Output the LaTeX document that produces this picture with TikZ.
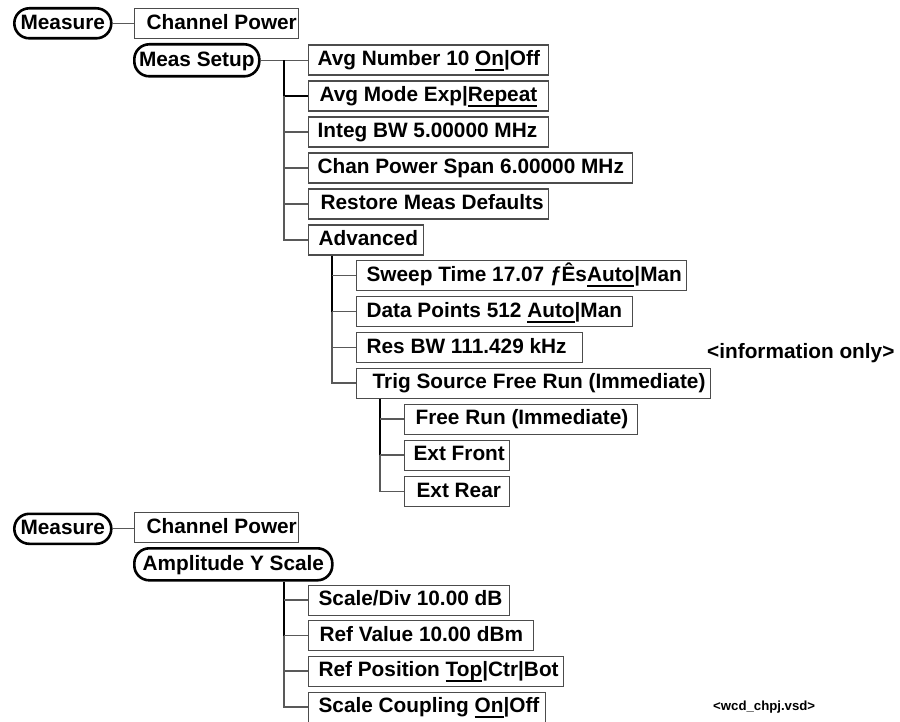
\documentclass[tikz,border=0pt]{standalone}
\usepackage{fontspec}
\setmainfont{Liberation Sans}
\newlength\ulw
\newcommand\ul[1]{\settowidth\ulw{#1}\rlap{\rule[-5.2pt]{\ulw}{1.8pt}}#1}
\newcommand\ff{\fontsize{20.8pt}{24pt}\selectfont\bfseries}
\tikzset{
  mbox/.style={draw=black!70, line width=1.2pt, anchor=north west, inner xsep=0pt, inner ysep=0pt,
    minimum height=30pt, text height=15pt, text depth=3.5pt, font=\ff},
  pill/.style={draw=black, line width=2.6pt, rounded corners=15pt, anchor=north west, inner xsep=0pt,
    inner ysep=0pt, text height=15pt, text depth=3.5pt, font=\ff},
  cthin/.style={draw=black!65, line width=1.3pt},
  cthick/.style={draw=black, line width=2pt},
  note/.style={anchor=west, inner sep=0pt, font=\ff}
}
\newcommand\mb[6][10]{\node[mbox] (#2) at (#3,#4) {\makebox[#5pt][l]{\hspace*{#1pt}#6}};}
\newcommand\pl[6]{\node[pill, minimum height=#5pt] (#1) at (#2,#3) {\makebox[#4pt][c]{#6}};}
\begin{document}
\begin{tikzpicture}[x=1pt,y=-1pt]
\useasboundingbox (0,0) rectangle (900,722);
% ---------- top tree ----------
\pl{m1}{13}{7}{97}{30}{Measure}
\mb[12]{cp1}{134}{8}{164}{Channel Power}
\pl{ms}{133}{43}{125}{32}{Meas Setup}
\mb[9]{an}{308}{44.5}{240}{Avg Number 10 \ul{On}|Off}
\mb[11]{am}{308}{80.5}{240}{Avg Mode Exp|\ul{Repeat}}
\mb[9]{ib}{308}{116.5}{240}{Integ BW 5.00000 MHz}
\mb[9]{cs}{308}{152.5}{324}{Chan Power Span 6.00000 MHz}
\mb[12]{rd}{308}{188.5}{240}{Restore Meas Defaults}
\mb[10]{adv}{308}{224.5}{115}{Advanced}
\mb[10]{sw}{356}{260}{330}{Sweep Time 17.07 ƒÊs\ul{Auto}|Man}
\mb[10]{dp}{356}{296}{276}{Data Points 512 \ul{Auto}|Man}
\mb[10]{rb}{356}{332}{226}{Res BW 111.429 kHz}
\mb[16]{ts}{356}{367.5}{354}{Trig Source Free Run (Immediate)}
\mb[11]{fr}{404}{403.5}{233}{Free Run (Immediate)}
\mb[9]{ef}{404}{439.5}{105}{Ext Front}
\mb[12]{er}{404}{476}{105}{Ext Rear}
\node[note] (info) at (707,353) {<information only>};
% ---------- bottom tree ----------
\pl{m2}{13}{512.5}{97}{30}{Measure}
\mb[12]{cp2}{134}{512}{164}{Channel Power}
\pl{ay}{133}{547}{198}{32}{Amplitude Y Scale}
\mb[10]{sd}{308}{584.5}{201}{Scale/Div 10.00 dB}
\mb[11]{rv}{308}{620}{225}{Ref Value 10.00 dBm}
\mb[10]{rp}{308}{655.5}{255}{Ref Position \ul{Top}|Ctr|Bot}
\mb[10]{sc}{308}{691.5}{237}{Scale Coupling \ul{On}|Off}
\node[anchor=west, inner sep=0pt, font=\fontsize{13.2pt}{15pt}\selectfont\bfseries] (wcd) at (713,707) {<wcd\_chpj.vsd>};
% ---------- connectors ----------
\coordinate (t1) at (284,0);
\coordinate (t2) at (332,0);
\coordinate (t3) at (380,0);
\draw[cthin] (m1.east) -- (m1.east -| cp1.west);
\draw[cthin] (ms.east) -- (ms.east -| an.west);
\draw[cthick] (t1 |- ms.east) -- (t1 |- am.west) -- (am.west);
\draw[cthin] (t1 |- am.west) -- (t1 |- adv.west) -- (adv.west);
\foreach \n in {ib,cs,rd} \draw[cthin] (t1 |- \n.west) -- (\n.west);
\draw[cthick] (t2 |- adv.south) -- (t2 |- dp.west);
\draw[cthin] (t2 |- dp.west) -- (t2 |- ts.west) -- (ts.west);
\foreach \n in {sw,dp,rb} \draw[cthin] (t2 |- \n.west) -- (\n.west);
\draw[cthick] (t3 |- ts.south) -- (t3 |- ef.west);
\draw[cthin] (t3 |- ef.west) -- (t3 |- er.west) -- (er.west);
\foreach \n in {fr,ef} \draw[cthin] (t3 |- \n.west) -- (\n.west);
\draw[cthin] (m2.east) -- (m2.east -| cp2.west);
\draw[cthick] (t1 |- ay.south) -- (t1 |- rv.west);
\draw[cthin] (t1 |- rv.west) -- (t1 |- sc.west) -- (sc.west);
\foreach \n in {sd,rv,rp} \draw[cthin] (t1 |- \n.west) -- (\n.west);
\end{tikzpicture}
\end{document}
